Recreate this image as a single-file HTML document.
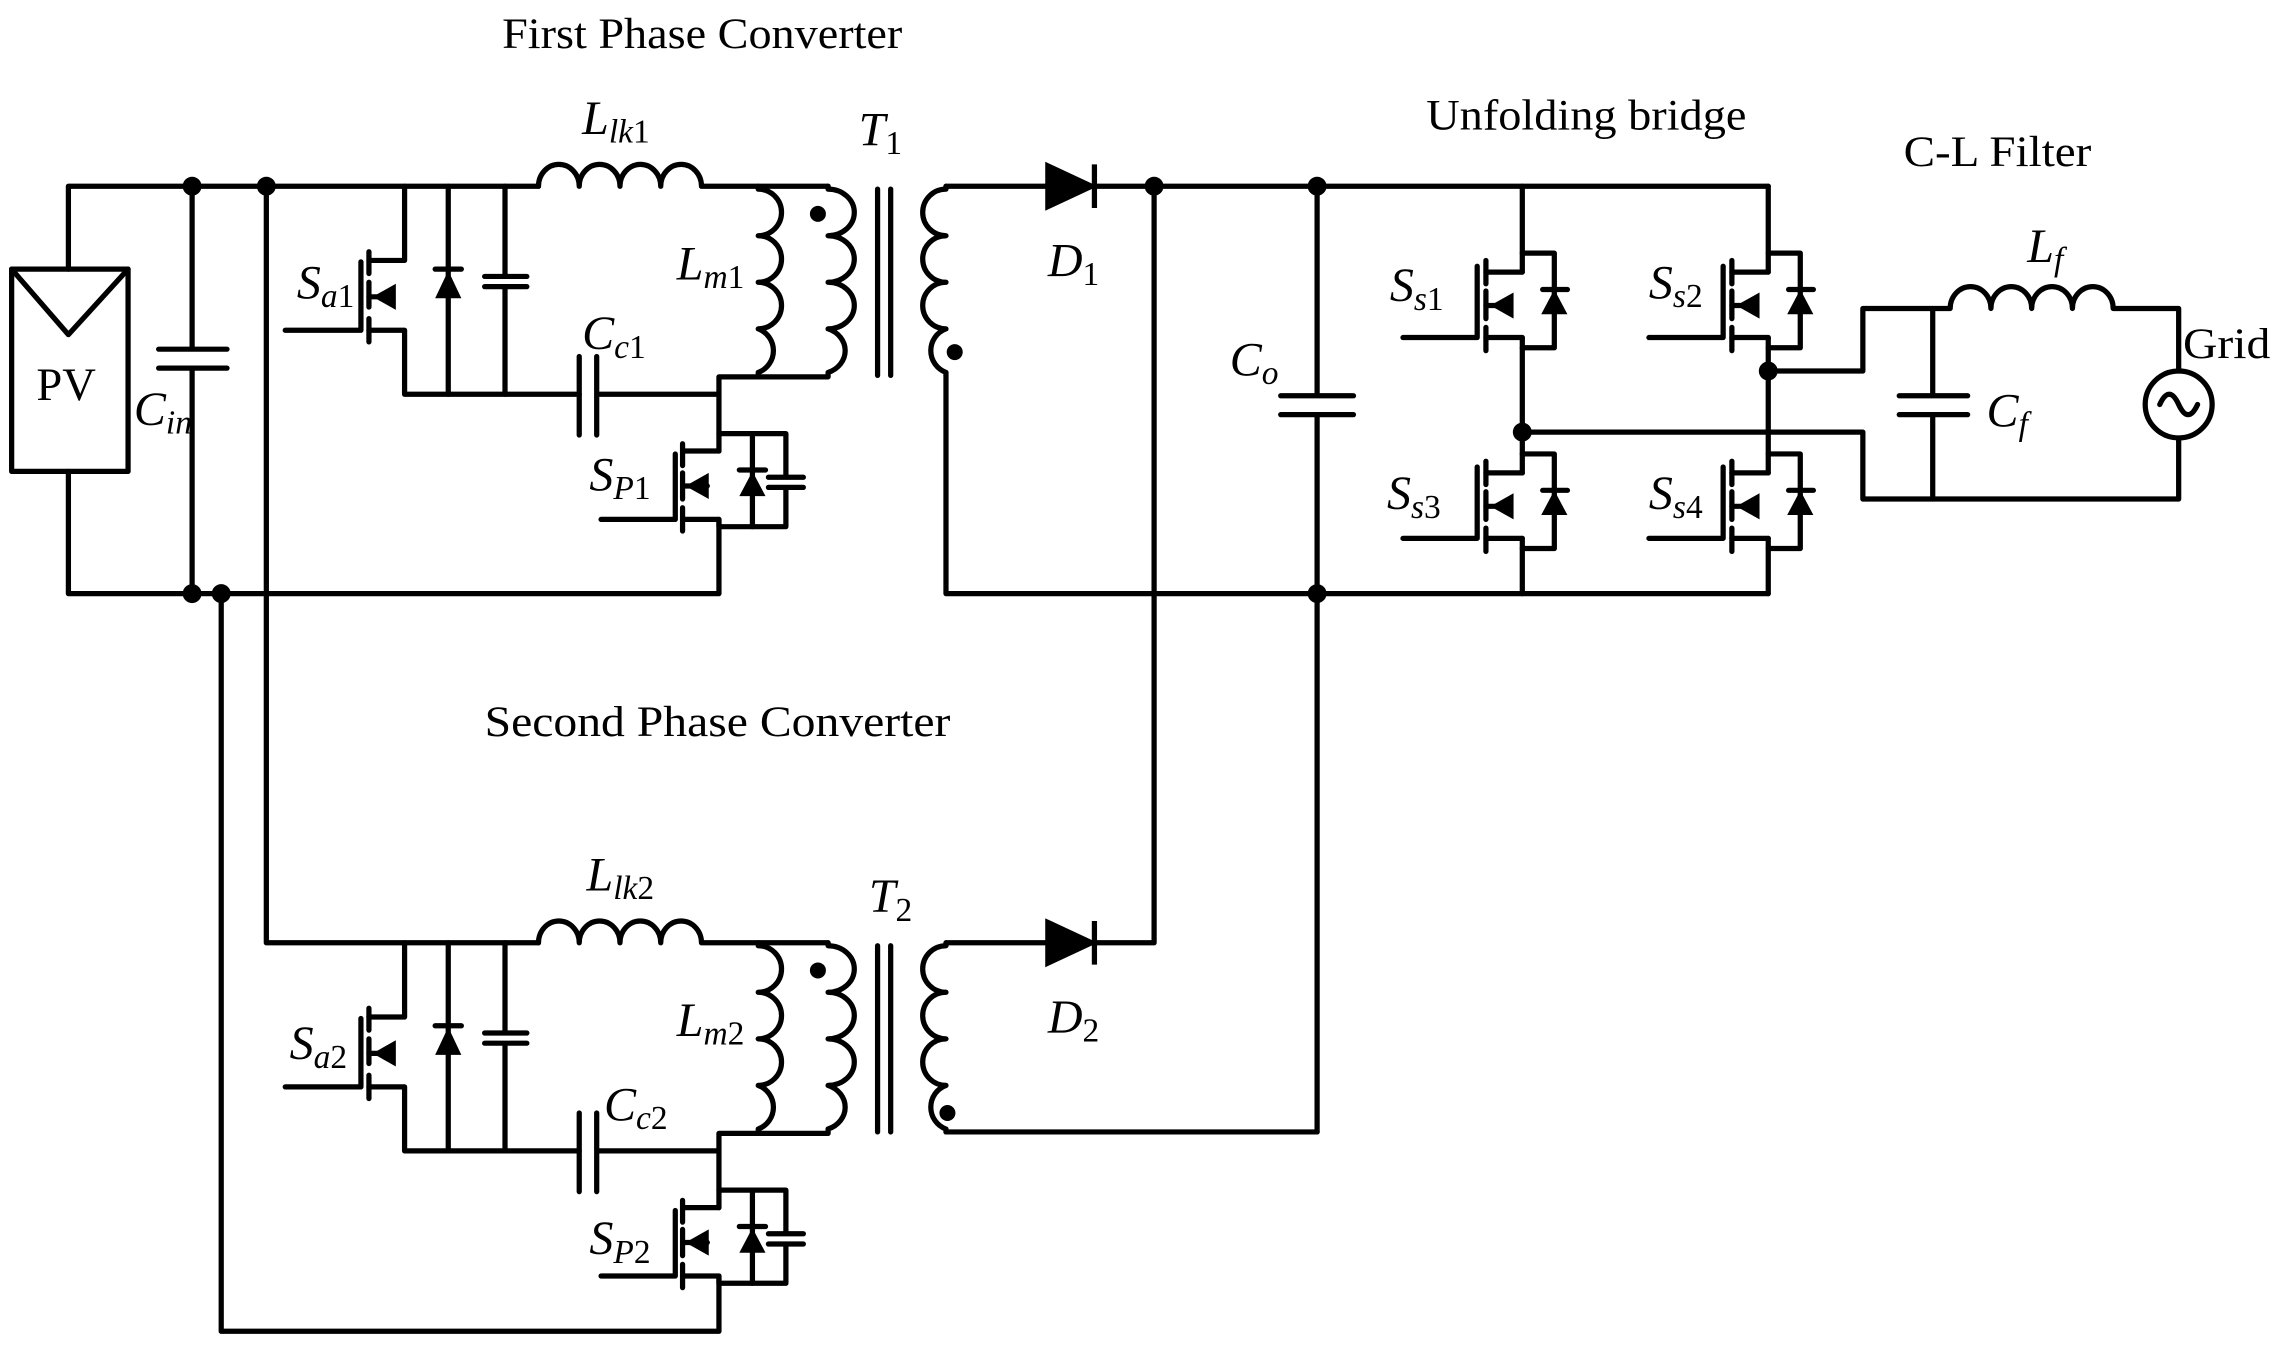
<!DOCTYPE html>
<html><head><meta charset="utf-8"><style>
html,body{margin:0;padding:0;background:#fff;}
svg{display:block;}
text{font-family:"Liberation Serif",serif;fill:#000;}
.i{font-style:italic;}
</style></head><body>
<svg width="2282" height="1356" viewBox="0 0 1568 932" preserveAspectRatio="none" xmlns="http://www.w3.org/2000/svg">
<g fill="none" stroke="#000" stroke-width="3.6" stroke-linecap="round" stroke-linejoin="round">
<rect x="8" y="185" width="80" height="139"/>
<path d="M8,185 L47,230 L88,185"/>
<path d="M47,185 V128 H370"/>
<path d="M47,324 V408 H494 V357"/>
<path d="M132,128 V240 M109,240 H156 M109,253 H156 M132,253 V408"/>
<path d="M183,128 V648 H370"/>
<path d="M152,408 V915 H494 V877"/>
<path d="M650,128 H720 M752,128 H1215"/>
<path d="M650,258 V408 H1215"/>
<path d="M650,648 H720 M752,648 H793 V128"/>
<path d="M650,778 H905"/>
<path d="M905,128 V272 M880,272 H930 M880,285 H930 M905,285 V778"/>
</g>
<g id="ph">
<g fill="none" stroke="#000" stroke-width="3.6" stroke-linecap="round" stroke-linejoin="round">
<path d="M370,128 a14,15 0 0 1 28,0 a14,15 0 0 1 28,0 a14,15 0 0 1 28,0 a14,15 0 0 1 28,0 H569"/>
<path d="M521,128 V130 a16,16 0 0 1 0,32 a16,16 0 0 1 0,32 a16,16 0 0 1 0,32 a16,16 0 0 1 0,30 V259"/>
<path d="M569,128 V130 a18,16 0 0 1 0,32 a18,16 0 0 1 0,32 a18,16 0 0 1 0,32 a18,16 0 0 1 0,30 V259 H494 V310"/>
<path d="M603,130 V258 M612,130 V258"/>
<path d="M650,128 V130 a16,16 0 0 0 0,32 a16,16 0 0 0 0,32 a16,16 0 0 0 0,32 a16,16 0 0 0 0,30 V258"/>
<path d="M196,227 H248 M248,180 V227"/>
<path d="M253.5,173 V188 M253.5,194 V211 M253.5,219 V235"/>
<path d="M253.5,179 H278 V128 M253.5,204 H270 M253.5,227 H278 V271 H398"/>
<path d="M308,128 V271 M299,185 H317"/>
<path d="M347,128 V190 M333,190 H362 M333,197 H362 M347,197 V271"/>
<path d="M398,245 V299 M410,245 V299 M410,271 H494"/>
<path d="M413,357 H464 M464,312 V357"/>
<path d="M469,305 V320 M469,325 V343 M469,349 V365"/>
<path d="M469,310 H494 M469,334 H486 M469,357 H494 V362 H540 V335 M494,298 H540 V328 M528,328 H552 M528,335 H552"/>
<path d="M517,298 V362 M508,323 H526"/>
</g>
<g fill="#000" stroke="none">
<path d="M256,204 L272,195 L272,213 Z"/>
<path d="M299,205 L317,205 L308,186 Z"/>
<path d="M471,334 L487,325 L487,343 Z"/>
<path d="M508,341 L526,341 L517,324 Z"/>
</g>
</g>
<use href="#ph" y="520"/>
<g fill="#000" stroke="#000" stroke-width="3.6">
<path d="M720,114 L750,128 L720,142 Z"/>
<path d="M752,113 V143"/>
<path d="M720,634 L750,648 L720,662 Z"/>
<path d="M752,633 V663"/>
</g>
<g id="swa">
<g fill="none" stroke="#000" stroke-width="3.6" stroke-linecap="round" stroke-linejoin="round">
<path d="M964,232 H1015 M1015,183 V232"/>
<path d="M1021,179 V195 M1021,200 V219 M1021,225 V241"/>
<path d="M1021,187 H1046 M1021,210 H1038 M1021,232 H1046"/>
<path d="M1046,174 H1068 V239 H1046 M1060,199 H1077"/>
</g>
<g fill="#000">
<path d="M1024,210 L1040,201 L1040,219 Z"/>
<path d="M1059,216 L1077,216 L1068,199 Z"/>
</g>
</g>
<use href="#swa" y="138"/>
<use href="#swa" x="169"/>
<use href="#swa" x="169" y="138"/>
<g fill="none" stroke="#000" stroke-width="3.6" stroke-linecap="round" stroke-linejoin="round">
<path d="M1046,128 V187 M1046,232 V325 M1046,370 V408"/>
<path d="M1215,128 V187 M1215,232 V325 M1215,370 V408"/>
<path d="M1046,297 H1280 V343 H1497 V301"/>
<path d="M1215,255 H1280 V212 H1340 a14,15 0 0 1 28,0 a14,15 0 0 1 28,0 a14,15 0 0 1 28,0 a14,15 0 0 1 28,0 H1497 V255"/>
<path d="M1328,212 V272 M1305,272 H1352 M1305,285 H1352 M1328,285 V343"/>
<circle cx="1497" cy="278" r="23"/>
<path d="M1484,278 q6.5,-14 13,0 q6.5,14 13,0"/>
</g>
<g fill="#000">
<circle cx="132" cy="128" r="6.5"/><circle cx="183" cy="128" r="6.5"/>
<circle cx="132" cy="408" r="6.5"/><circle cx="152" cy="408" r="6.5"/>
<circle cx="793" cy="128" r="6.5"/><circle cx="905" cy="128" r="6.5"/>
<circle cx="905" cy="408" r="6.5"/><circle cx="1046" cy="297" r="6.5"/>
<circle cx="1215" cy="255" r="6.5"/>
<circle cx="562" cy="147" r="5.5"/><circle cx="656" cy="242" r="5.5"/>
<circle cx="562" cy="667" r="5.5"/><circle cx="651" cy="765" r="5.5"/>
</g>
<text x="345" y="33" font-size="30" textLength="275" lengthAdjust="spacingAndGlyphs">First Phase Converter</text>
<text x="333" y="506" font-size="30" textLength="320" lengthAdjust="spacingAndGlyphs">Second  Phase Converter</text>
<text x="980" y="89" font-size="30" textLength="220" lengthAdjust="spacingAndGlyphs">Unfolding bridge</text>
<text x="1308" y="114" font-size="30" textLength="129" lengthAdjust="spacingAndGlyphs">C-L Filter</text>
<text x="1500" y="246" font-size="30" textLength="60" lengthAdjust="spacingAndGlyphs">Grid</text>
<text x="25" y="275" font-size="32">PV</text>
<g font-size="33">
<text x="92" y="292" class="i">C<tspan font-size="23" dy="6">in</tspan></text>
<text x="400" y="92" class="i">L<tspan font-size="23" dy="6">lk</tspan><tspan font-size="23" font-style="normal">1</tspan></text>
<text x="403" y="612" class="i">L<tspan font-size="23" dy="6">lk</tspan><tspan font-size="23" font-style="normal">2</tspan></text>
<text x="590" y="100" class="i">T<tspan font-size="23" dy="6" font-style="normal">1</tspan></text>
<text x="597" y="627" class="i">T<tspan font-size="23" dy="6" font-style="normal">2</tspan></text>
<text x="465" y="192" class="i">L<tspan font-size="23" dy="6">m</tspan><tspan font-size="23" font-style="normal">1</tspan></text>
<text x="465" y="712" class="i">L<tspan font-size="23" dy="6">m</tspan><tspan font-size="23" font-style="normal">2</tspan></text>
<text x="400" y="240" class="i">C<tspan font-size="23" dy="6">c</tspan><tspan font-size="23" font-style="normal">1</tspan></text>
<text x="415" y="770" class="i">C<tspan font-size="23" dy="6">c</tspan><tspan font-size="23" font-style="normal">2</tspan></text>
<text x="204" y="205" class="i">S<tspan font-size="23" dy="6">a</tspan><tspan font-size="23" font-style="normal">1</tspan></text>
<text x="199" y="728" class="i">S<tspan font-size="23" dy="6">a</tspan><tspan font-size="23" font-style="normal">2</tspan></text>
<text x="405" y="337" class="i">S<tspan font-size="23" dy="6">P</tspan><tspan font-size="23" font-style="normal">1</tspan></text>
<text x="405" y="862" class="i">S<tspan font-size="23" dy="6">P</tspan><tspan font-size="23" font-style="normal">2</tspan></text>
<text x="720" y="190" class="i">D<tspan font-size="23" dy="6" font-style="normal">1</tspan></text>
<text x="720" y="710" class="i">D<tspan font-size="23" dy="6" font-style="normal">2</tspan></text>
<text x="845" y="258" class="i">C<tspan font-size="23" dy="6">o</tspan></text>
<text x="955" y="207" class="i">S<tspan font-size="23" dy="6">s</tspan><tspan font-size="23" font-style="normal">1</tspan></text>
<text x="1133" y="205" class="i">S<tspan font-size="23" dy="6">s</tspan><tspan font-size="23" font-style="normal">2</tspan></text>
<text x="953" y="350" class="i">S<tspan font-size="23" dy="6">s</tspan><tspan font-size="23" font-style="normal">3</tspan></text>
<text x="1133" y="350" class="i">S<tspan font-size="23" dy="6">s</tspan><tspan font-size="23" font-style="normal">4</tspan></text>
<text x="1393" y="180" class="i">L<tspan font-size="23" dy="6">f</tspan></text>
<text x="1365" y="293" class="i">C<tspan font-size="23" dy="6">f</tspan></text>
</g>
</svg>
</body></html>
